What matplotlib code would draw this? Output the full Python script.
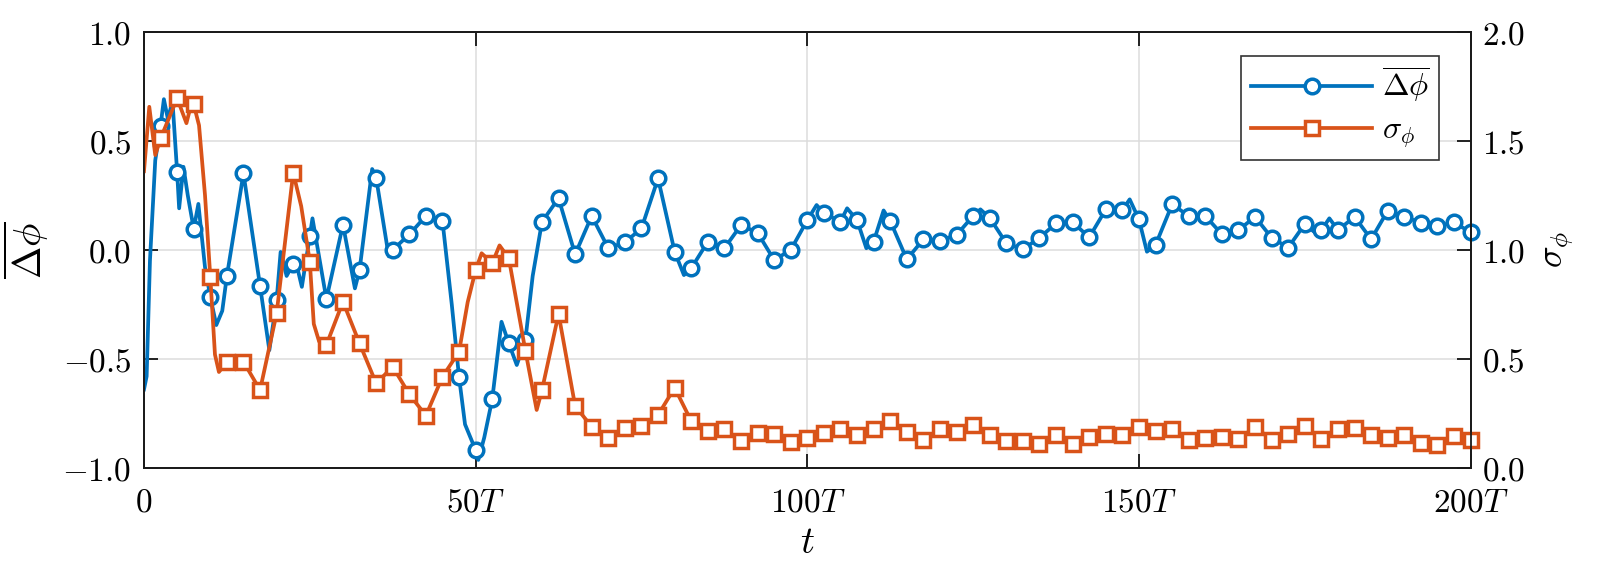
import numpy as np
import matplotlib
matplotlib.use("Agg")
import matplotlib.pyplot as plt
from matplotlib.lines import Line2D

plt.rcParams['mathtext.fontset'] = 'cm'
plt.rcParams['font.family'] = 'DejaVu Serif'

# marker times: every 2.5T
t_mark = np.arange(1, 81) * 2.5

# mean phase difference (left axis), value at each marker
dphi_mark = [0.568, 0.355, 0.095, -0.216, -0.12, 0.35, -0.166, -0.23, -0.065, 0.063,
             -0.226, 0.115, -0.093, 0.33, 0.0, 0.07, 0.155, 0.132, -0.584, -0.918,
             -0.685, -0.429, -0.413, 0.128, 0.236, -0.021,
             0.155, 0.007, 0.034, 0.098, 0.327, -0.009, -0.085, 0.037, 0.007, 0.113,
             0.078, -0.047, -0.001, 0.136, 0.167, 0.129, 0.136, 0.037, 0.132, -0.044,
             0.048, 0.042, 0.068, 0.155, 0.146,
             0.03, 0.002, 0.055, 0.121, 0.126, 0.057, 0.185, 0.182, 0.139, 0.022,
             0.208, 0.155, 0.155, 0.071, 0.09, 0.151, 0.055, 0.01, 0.118, 0.09,
             0.09, 0.151, 0.048, 0.179, 0.151, 0.124, 0.109, 0.125, 0.08]

# extra points of the continuous curve between markers
dphi_extra_t = [0.0, 0.4, 0.9, 1.7, 3.0, 3.6, 4.3, 5.3, 5.95, 6.6, 8.2, 9.2, 10.9, 11.8,
                18.9, 20.6, 21.5, 23.1, 23.8, 25.4, 31.8, 34.4, 36.9, 46.4, 48.4, 50.4,
                51.3, 53.9, 56.2, 58.6, 81.4, 101.4, 106.0, 108.9, 111.5, 126.1, 148.6,
                151.2, 177.4, 178.7]
dphi_extra_v = [-0.64, -0.58, -0.05, 0.41, 0.69, 0.6, 0.68, 0.19, 0.38, 0.25, 0.21, -0.08,
                -0.345, -0.28, -0.46, -0.01, -0.12, -0.08, -0.17, 0.144, -0.177, 0.37,
                -0.03, -0.25, -0.80, -0.963, -0.86, -0.33, -0.528, -0.12, -0.116, 0.205,
                0.19, 0.007, 0.18, 0.185, 0.231, -0.009, 0.057, 0.144]

# phase std (right axis), value at each marker
sig_mark = [1.51, 1.694, 1.666, 0.874, 0.487, 0.487, 0.357, 0.709, 1.353, 0.945,
            0.564, 0.762, 0.571, 0.388, 0.464, 0.338, 0.24, 0.418, 0.533, 0.907,
            0.938, 0.961, 0.537, 0.357, 0.706, 0.284,
            0.189, 0.136, 0.182, 0.192, 0.243, 0.368, 0.215, 0.17, 0.177, 0.124,
            0.159, 0.156, 0.121, 0.136, 0.162, 0.177, 0.151, 0.177, 0.217, 0.166,
            0.128, 0.177, 0.166, 0.197, 0.151,
            0.125, 0.125, 0.11, 0.151, 0.11, 0.143, 0.156, 0.151, 0.189, 0.17,
            0.177, 0.128, 0.136, 0.143, 0.131, 0.189, 0.128, 0.156, 0.192, 0.131,
            0.177, 0.182, 0.151, 0.136, 0.151, 0.113, 0.105, 0.147, 0.13]

sig_extra_t = [0.0, 0.8, 1.7, 6.4, 6.9, 8.3, 9.2, 10.7, 11.3, 13.75, 23.7, 25.6, 26.4,
               48.8, 50.9, 53.6, 59.2]
sig_extra_v = [1.36, 1.655, 1.434, 1.58, 1.64, 1.57, 1.25, 0.52, 0.44, 0.50, 1.2, 0.66,
               0.58, 0.76, 0.984, 1.02, 0.266]

xticks = [0, 50, 100, 150, 200]
xticklabels = ['$0$', '$50T$', '$100T$', '$150T$', '$200T$']
yticks_l = [-1.0, -0.5, 0.0, 0.5, 1.0]
yticks_r = [0.0, 0.5, 1.0, 1.5, 2.0]

blue = '#0072BD'
orange = '#D95319'


def merge(tm, vm, te, ve):
    t = np.concatenate([tm, te])
    v = np.concatenate([vm, ve])
    order = np.argsort(t)
    return t[order], v[order]


t_b, v_b = merge(t_mark, dphi_mark, dphi_extra_t, dphi_extra_v)
t_o, v_o = merge(t_mark, sig_mark, sig_extra_t, sig_extra_v)

fig = plt.figure(figsize=(15.98, 5.72), dpi=100)
ax = fig.add_axes([0.0901, 0.1818, 0.8302, 0.7631])
ax2 = ax.twinx()

lw = 2.7
ms = 10.5
mew = 2.5

ax.plot(t_b, v_b, color=blue, lw=lw)
ax.plot(t_mark, dphi_mark, ls='none', marker='o', ms=ms, mew=mew, mfc='white',
        mec=blue, clip_on=False)
ax2.plot(t_o, v_o, color=orange, lw=lw)
ax2.plot(t_mark, sig_mark, ls='none', marker='s', ms=ms - 0.5, mew=mew, mfc='white',
         mec=orange, clip_on=False)

ax.set_xlim(0, 200)
ax.set_ylim(-1, 1)
ax2.set_ylim(0, 2)
ax.set_xticks(xticks)
ax.set_xticklabels(xticklabels)
ax.set_yticks(yticks_l)
ax.set_yticklabels(['$%.1f$' % y for y in yticks_l])
ax2.set_yticks(yticks_r)
ax2.set_yticklabels(['$%.1f$' % y for y in yticks_r])

ax.grid(True, color='#dcdcdc', lw=1.1)
ax.set_axisbelow(True)

fs = 24
ax.tick_params(axis='x', direction='in', top=True, length=10, width=1.2, labelsize=fs, pad=13)
ax.tick_params(axis='y', direction='in', right=False, length=10, width=1.2, labelsize=fs, pad=9)
ax2.tick_params(axis='y', direction='in', length=10, width=1.2, labelsize=fs, pad=8)
for a in (ax, ax2):
    for s in a.spines.values():
        s.set_linewidth(1.3)
        s.set_color('#1a1a1a')

ax.set_xlabel('$t$', fontsize=28, labelpad=4)
ax.set_ylabel(r'$\overline{\Delta\phi}$', fontsize=28, labelpad=8)
ax2.set_ylabel(r'$\sigma_\phi$', fontsize=26, labelpad=12)

handles = [Line2D([], [], color=blue, lw=lw, marker='o', ms=ms, mew=mew, mfc='white'),
           Line2D([], [], color=orange, lw=lw, marker='s', ms=ms - 0.5, mew=mew, mfc='white')]
leg = ax2.legend(handles, [r'$\overline{\Delta\phi}$', r'$\sigma_\phi$'],
                 loc='upper right', bbox_to_anchor=(0.9763, 0.9446), borderaxespad=0,
                 fontsize=23, fancybox=False, framealpha=1, edgecolor='#333333',
                 numpoints=1, handlelength=3.8, borderpad=0.3, labelspacing=0.3,
                 handletextpad=0.3)
leg.get_frame().set_linewidth(1.2)

fig.savefig('out.png', dpi=100)
